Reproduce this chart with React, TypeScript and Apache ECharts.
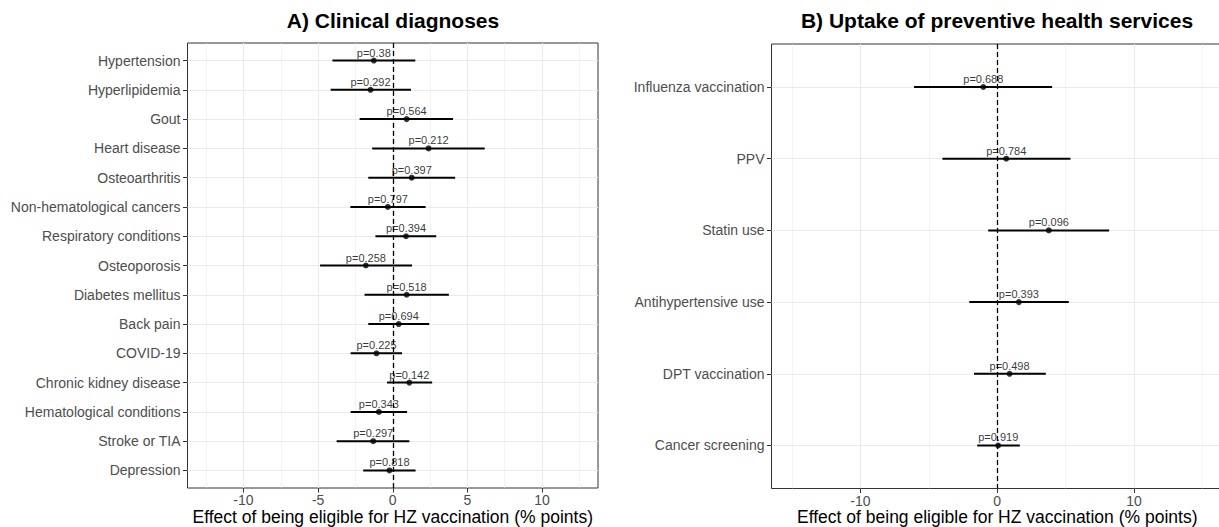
import React, { useEffect, useRef } from "react";
import * as echarts from "echarts";

const leftCats = [
  "Hypertension", "Hyperlipidemia", "Gout", "Heart disease", "Osteoarthritis",
  "Non-hematological cancers", "Respiratory conditions", "Osteoporosis",
  "Diabetes mellitus", "Back pain", "COVID-19", "Chronic kidney disease",
  "Hematological conditions", "Stroke or TIA", "Depression",
];
const leftEst = [-1.27, -1.49, 0.93, 2.4, 1.27, -0.33, 0.89, -1.8, 0.93, 0.4, -1.09, 1.11, -0.93, -1.31, -0.22];
const leftLo = [-4.04, -4.16, -2.22, -1.38, -1.64, -2.84, -1.16, -4.87, -1.89, -1.64, -2.82, -0.38, -2.82, -3.76, -1.98];
const leftHi = [1.51, 1.22, 4.04, 6.16, 4.18, 2.2, 2.91, 1.29, 3.76, 2.44, 0.62, 2.64, 0.96, 1.11, 1.53];
const leftP = ["0.38", "0.292", "0.564", "0.212", "0.397", "0.797", "0.394", "0.258", "0.518", "0.694", "0.225", "0.142", "0.343", "0.297", "0.818"];

const rightCats = [
  "Influenza vaccination", "PPV", "Statin use", "Antihypertensive use",
  "DPT vaccination", "Cancer screening",
];
const rightEst = [-1.02, 0.66, 3.77, 1.58, 0.9, 0.07];
const rightLo = [-6.08, -4.01, -0.66, -2.04, -1.7, -1.46];
const rightHi = [4.01, 5.35, 8.18, 5.23, 3.55, 1.65];
const rightP = ["0.688", "0.784", "0.096", "0.393", "0.498", "0.919"];

const leftTicks = [-10, -5, 0, 5, 10];
const leftMinor = [-12.5, -7.5, -2.5, 2.5, 7.5, 12.5];
const rightTicks = [-10, 0, 10];
const rightMinor = [-15, -5, 5, 15];

const FONT = "'Liberation Sans', Arial, sans-serif";
const GRID = "#ebebeb";
const DARK = "#333333";
const TXT = "#4d4d4d";

function mainX(gridIndex: number, min: number, max: number, ticks: number[]) {
  return {
    type: "value", gridIndex, min, max, position: "bottom",
    name: "Effect of being eligible for HZ vaccination (% points)",
    nameLocation: "middle", nameGap: 23.5, nameMoveOverlap: false,
    nameTextStyle: { fontFamily: FONT, fontSize: 17.5, lineHeight: 10, color: "#000", verticalAlign: "top" },
    axisLine: { show: false, onZero: false },
    axisTick: { show: true, length: 4.5, customValues: ticks, lineStyle: { color: DARK, width: 1 } },
    axisLabel: { customValues: ticks, margin: 5, fontFamily: FONT, fontSize: 14, lineHeight: 14, color: TXT },
    splitLine: { show: true, lineStyle: { color: GRID, width: 1.1 } },
  };
}
function minorX(gridIndex: number, min: number, max: number, ticks: number[]) {
  return {
    type: "value", gridIndex, min, max, position: "top",
    axisLine: { show: false, onZero: false },
    axisTick: { show: false, customValues: ticks },
    axisLabel: { show: false, customValues: ticks },
    splitLine: { show: true, lineStyle: { color: GRID, width: 0.55 } },
  };
}
function catY(gridIndex: number, cats: string[]) {
  const idx = cats.map((_, i) => i);
  return {
    type: "value", gridIndex, min: -0.6, max: cats.length - 0.4, inverse: true, position: "left",
    axisLine: { show: false, onZero: false },
    axisTick: { show: true, length: 4.5, customValues: idx, lineStyle: { color: DARK, width: 1 } },
    axisLabel: {
      customValues: idx, margin: 7, fontFamily: FONT, fontSize: 14, color: TXT,
      formatter: (v: number) => cats[Math.round(v)] ?? "",
    },
    splitLine: { show: true, lineStyle: { color: GRID, width: 1.1 } },
  };
}
function errSeries(axisIndex: number, lo: number[], hi: number[]) {
  return {
    type: "custom", xAxisIndex: axisIndex, yAxisIndex: axisIndex === 0 ? 0 : 1,
    data: lo.map((l, i) => [l, hi[i], i]),
    encode: { x: [0, 1], y: 2 },
    renderItem: (_p: any, api: any) => {
      const a = api.coord([api.value(0), api.value(2)]);
      const b = api.coord([api.value(1), api.value(2)]);
      return {
        type: "line",
        shape: { x1: a[0], y1: a[1], x2: b[0], y2: b[1] },
        style: { stroke: "#000", lineWidth: 2 },
      };
    },
    z: 3,
  };
}
function ptSeries(axisIndex: number, est: number[], p: string[]) {
  return {
    type: "scatter", xAxisIndex: axisIndex, yAxisIndex: axisIndex === 0 ? 0 : 1,
    data: est.map((e, i) => [e, i]),
    symbol: "circle", symbolSize: 6,
    itemStyle: { color: "#000" },
    label: {
      show: true, position: "inside", offset: [0, -8],
      formatter: (prm: any) => "p=" + p[prm.dataIndex],
      fontFamily: FONT, fontSize: 11, color: "#000",
    },
    markLine: {
      silent: true, symbol: "none", animation: false,
      label: { show: false },
      lineStyle: { color: "#000", type: [5, 3], width: 1.3 },
      data: [{ xAxis: 0 }],
    },
    z: 4,
  };
}

export default function App() {
  const ref = useRef<HTMLDivElement>(null);
  useEffect(() => {
    if (!ref.current) return;
    const chart = echarts.init(ref.current, undefined, { renderer: "svg" });
    chart.setOption({
      animation: false,
      backgroundColor: "#ffffff",
      title: [
        {
          text: "A) Clinical diagnoses", left: 393, top: 10, textAlign: "center", padding: 0,
          textStyle: { fontFamily: FONT, fontSize: 21, fontWeight: "bold", color: "#000" },
        },
        {
          text: "B) Uptake of preventive health services", left: 997, top: 10, textAlign: "center", padding: 0,
          textStyle: { fontFamily: FONT, fontSize: 21, fontWeight: "bold", color: "#000" },
        },
      ],
      grid: [
        { left: 187.5, top: 43, width: 410.5, height: 445, show: true, borderColor: DARK, borderWidth: 1, backgroundColor: "transparent", outerBoundsMode: "none", containLabel: false },
        { left: 771.5, top: 44, width: 451.5, height: 444.5, show: true, borderColor: DARK, borderWidth: 1, backgroundColor: "transparent", outerBoundsMode: "none", containLabel: false },
      ],
      xAxis: [
        mainX(0, -13.75, 13.75, leftTicks),
        minorX(0, -13.75, 13.75, leftMinor),
        mainX(1, -16.5, 16.5, rightTicks),
        minorX(1, -16.5, 16.5, rightMinor),
      ],
      yAxis: [catY(0, leftCats), catY(1, rightCats)],
      series: [
        errSeries(0, leftLo, leftHi),
        ptSeries(0, leftEst, leftP),
        errSeries(2, rightLo, rightHi),
        ptSeries(2, rightEst, rightP),
      ],
    });
    return () => chart.dispose();
  }, []);
  return <div ref={ref} style={{ position: "fixed", left: 0, top: 0, width: 1219, height: 527 }} />;
}
